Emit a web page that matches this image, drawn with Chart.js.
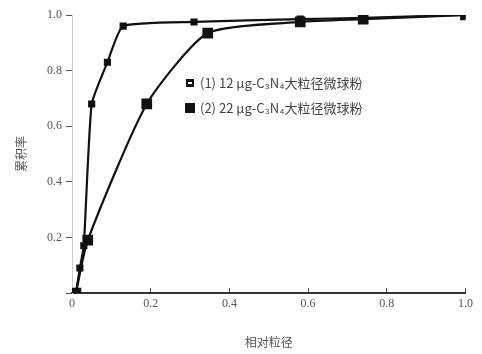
<!DOCTYPE html>
<html><head><meta charset="utf-8">
<script src="https://cdn.jsdelivr.net/npm/chart.js@4/dist/chart.umd.min.js"></script>
<style>html,body{margin:0;padding:0;background:#fff}#w{width:482px;height:354px}</style>
</head><body><div id="w"><canvas id="c" width="482" height="354"></canvas></div>
<script>
const s1X = [0.01, 0.02, 0.03, 0.05, 0.09, 0.13, 0.31, 0.58, 0.74, 1.0];
const s1Y = [0, 0.09, 0.17, 0.68, 0.83, 0.96, 0.975, 0.985, 0.99, 1.0];
const s2X = [0.01, 0.04, 0.19, 0.345, 0.58, 0.74, 1.0];
const s2Y = [0, 0.19, 0.68, 0.935, 0.975, 0.985, 1.0];
const xTicks = [0, 0.2, 0.4, 0.6, 0.8, 1.0];
const yTicks = [0, 0.2, 0.4, 0.6, 0.8, 1.0];
const seriesNames = ["(1) 12 μg-C₃N₄大粒径微球粉", "(2) 22 μg-C₃N₄大粒径微球粉"];
const xTitle = "相对粒径";
const yTitle = "累积率";

const fontFam = "'Liberation Serif','Noto Sans CJK SC',serif";
const legendPlugin = {
  id: 'lg',
  afterDraw(chart) {
    const ctx = chart.ctx;
    const ca = chart.chartArea;
    const x0 = ca.left + 118, y0 = ca.top + 68;
    ctx.save();
    ctx.font = "13px 'Noto Sans CJK SC', sans-serif";
    ctx.textBaseline = 'middle';
    ctx.fillStyle = '#111';
    ctx.fillRect(x0 - 4, y0 - 4, 8, 8);
    ctx.fillStyle = '#fff';
    ctx.fillRect(x0 - 2, y0 - 1, 4, 2);
    ctx.fillStyle = '#444';
    ctx.fillText(seriesNames[0], x0 + 10, y0);
    ctx.fillStyle = '#111';
    ctx.fillRect(x0 - 5, y0 + 20, 10, 10);
    ctx.fillStyle = '#444';
    ctx.fillText(seriesNames[1], x0 + 10, y0 + 25);
    ctx.restore();
  }
};

new Chart(document.getElementById('c'), {
  type: 'line',
  data: {
    datasets: [
      { label: seriesNames[0], data: s1X.map((x, i) => ({x, y: s1Y[i]})),
        borderColor: '#111', backgroundColor: '#111', borderWidth: 2.2,
        pointStyle: 'rect', pointRadius: 3.5, tension: 0.15 },
      { label: seriesNames[1], data: s2X.map((x, i) => ({x, y: s2Y[i]})),
        borderColor: '#111', backgroundColor: '#111', borderWidth: 2.2,
        pointStyle: 'rect', pointRadius: 6, tension: 0.2 }
    ]
  },
  options: {
    responsive: false, animation: false,
    layout: { padding: { top: 15, right: 11, left: 0, bottom: 0 } },
    plugins: { legend: { display: false }, tooltip: { enabled: false } },
    scales: {
      x: {
        type: 'linear', min: 0, max: 1.0,
        afterBuildTicks: a => { a.ticks = xTicks.map(v => ({value: v})); },
        afterFit: a => { a.height = 61; },
        grid: { display: true, drawOnChartArea: false, drawTicks: true, tickLength: -5, color: '#555' },
        border: { color: '#333', width: 2 },
        ticks: { color: '#555', font: { family: fontFam, size: 12 }, padding: 9,
                 callback: v => v === 0 ? '0' : v.toFixed(1) },
        title: { display: true, text: xTitle, color: '#555', font: { family: "'Noto Sans CJK SC'", size: 12 }, padding: { top: 2 } }
      },
      y: {
        type: 'linear', min: 0, max: 1.0,
        afterBuildTicks: a => { a.ticks = yTicks.map(v => ({value: v})); },
        afterFit: a => { a.width = 72; },
        grid: { display: true, drawOnChartArea: false, tickLength: 6, color: '#555' },
        border: { color: '#ccc', width: 1 },
        ticks: { color: '#555', font: { family: fontFam, size: 12 }, padding: 4,
                 callback: v => v === 0 ? '' : v.toFixed(1) },
        title: { display: true, text: yTitle, color: '#555', font: { family: "'Noto Sans CJK SC'", size: 12 }, padding: { top: 14, bottom: 4 } }
      }
    }
  },
  plugins: [legendPlugin]
});
</script></body></html>
